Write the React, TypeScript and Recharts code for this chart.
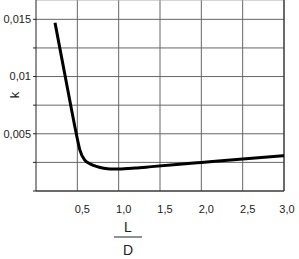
import { LineChart, Line, XAxis, YAxis, CartesianGrid, ReferenceLine } from 'recharts'

// L/D values and the k read at each of them
const ratio = [0.23, 0.43, 0.49, 0.53, 0.59, 0.66, 0.73, 0.82, 0.9, 1.0, 1.2, 1.4, 1.7, 2.0, 2.5, 3.0]
const kValues = [0.0147, 0.0071, 0.0049, 0.0036, 0.0027, 0.00235, 0.00215, 0.00198, 0.00192, 0.00192, 0.002, 0.00213, 0.00232, 0.0025, 0.0028, 0.00309]

const xTicks = [0.5, 1.0, 1.5, 2.0, 2.5, 3.0]
const xTickLabels = ['0,5', '1,0', '1,5', '2,0', '2,5', '3,0']
const yTicks = [0, 0.0025, 0.005, 0.0075, 0.01, 0.0125, 0.015]
const yTickLabels = ['', '', '0,005', '', '0,01', '', '0,015']
const yMax = 0.01669

const font = '"Liberation Sans", Arial, sans-serif'

const data = ratio.map((x, i) => ({ x, k: kValues[i] }))

const XTick = (props: any) => {
    const { x, y, index } = props
    const last = index === xTicks.length - 1
    return (
        <text x={x + (last ? 3 : 5)} y={y + 20} textAnchor="middle" fontSize={11} fontFamily={font} fill="#222">
            {xTickLabels[index]}
        </text>
    )
}

const XLabel = (props: any) => {
    const { viewBox } = props
    const cx = viewBox.x + 92
    const top = viewBox.y
    return (
        <g fontFamily={font} fontSize={14} fill="#222">
            <text x={cx} y={top + 41} textAnchor="middle">L</text>
            <line x1={cx - 14} x2={cx + 14} y1={top + 46} y2={top + 46} stroke="#222" strokeWidth={1} />
            <text x={cx} y={top + 64} textAnchor="middle">D</text>
        </g>
    )
}

const YLabel = (props: any) => {
    const { viewBox } = props
    const cx = viewBox.x + 14
    const cy = viewBox.y + 95
    return (
        <text x={cx} y={cy} textAnchor="middle" dominantBaseline="central" transform={`rotate(-90, ${cx}, ${cy})`}
            fontSize={13} fontFamily={font} fill="#222">
            k
        </text>
    )
}

export default function App() {
    return (
        <div style={{ position: 'absolute', left: 0, top: 0 }}>
            <LineChart width={299} height={259} data={data} margin={{ top: 0, right: 15, left: 0, bottom: 0 }}>
                <CartesianGrid stroke="#666" horizontalValues={yTicks} verticalValues={xTicks} />
                <ReferenceLine y={yMax} stroke="#aaa" />
                <ReferenceLine x={3} stroke="#222" />
                <XAxis
                    dataKey="x"
                    type="number"
                    domain={[0, 3]}
                    ticks={xTicks}
                    tick={<XTick />}
                    tickLine={false}
                    tickSize={0}
                    stroke="#222"
                    height={68}
                    label={{ content: <XLabel /> }}
                />
                <YAxis
                    type="number"
                    domain={[0, yMax]}
                    ticks={yTicks}
                    allowDataOverflow
                    width={36}
                    tickSize={3}
                    tickMargin={2}
                    stroke="#222"
                    tick={{ fontSize: 11, fontFamily: font, fill: '#222' }}
                    tickFormatter={(v: number, i: number) => yTickLabels[i] ?? ''}
                    label={{ content: <YLabel /> }}
                />
                <Line
                    type="monotone"
                    dataKey="k"
                    stroke="#000"
                    strokeWidth={3}
                    dot={false}
                    isAnimationActive={false}
                />
            </LineChart>
        </div>
    )
}
